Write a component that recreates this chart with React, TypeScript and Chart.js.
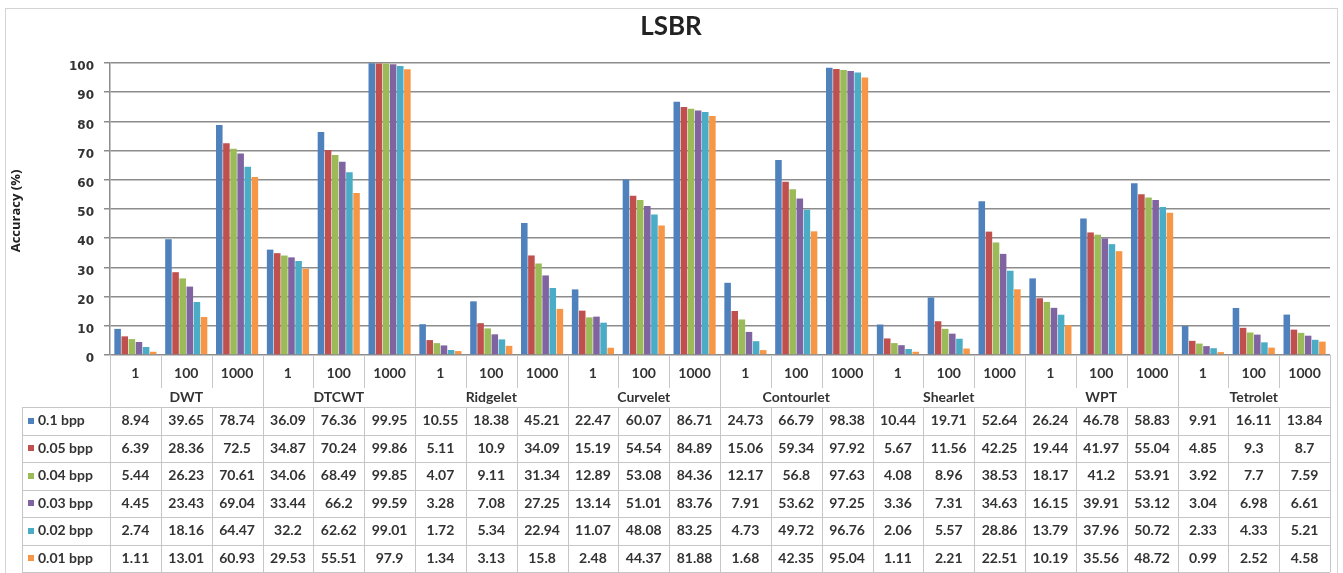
import React, { useEffect, useRef } from "react";
import { Chart, registerables } from "chart.js";
Chart.register(...registerables);

const methods = ["DWT", "DTCWT", "Ridgelet", "Curvelet", "Contourlet", "Shearlet", "WPT", "Tetrolet"];
const levels = ["1", "100", "1000"];
const seriesLabels = ["0.1 bpp", "0.05 bpp", "0.04 bpp", "0.03 bpp", "0.02 bpp", "0.01 bpp"];
const seriesColors = ["#4F81BD", "#C0504D", "#9BBB59", "#8064A2", "#4BACC6", "#F79646"];
const yTicks = [0, 10, 20, 30, 40, 50, 60, 70, 80, 90, 100];

const bpp010 = [8.94, 39.65, 78.74, 36.09, 76.36, 99.95, 10.55, 18.38, 45.21, 22.47, 60.07, 86.71, 24.73, 66.79, 98.38, 10.44, 19.71, 52.64, 26.24, 46.78, 58.83, 9.91, 16.11, 13.84];
const bpp005 = [6.39, 28.36, 72.5, 34.87, 70.24, 99.86, 5.11, 10.9, 34.09, 15.19, 54.54, 84.89, 15.06, 59.34, 97.92, 5.67, 11.56, 42.25, 19.44, 41.97, 55.04, 4.85, 9.3, 8.7];
const bpp004 = [5.44, 26.23, 70.61, 34.06, 68.49, 99.85, 4.07, 9.11, 31.34, 12.89, 53.08, 84.36, 12.17, 56.8, 97.63, 4.08, 8.96, 38.53, 18.17, 41.2, 53.91, 3.92, 7.7, 7.59];
const bpp003 = [4.45, 23.43, 69.04, 33.44, 66.2, 99.59, 3.28, 7.08, 27.25, 13.14, 51.01, 83.76, 7.91, 53.62, 97.25, 3.36, 7.31, 34.63, 16.15, 39.91, 53.12, 3.04, 6.98, 6.61];
const bpp002 = [2.74, 18.16, 64.47, 32.2, 62.62, 99.01, 1.72, 5.34, 22.94, 11.07, 48.08, 83.25, 4.73, 49.72, 96.76, 2.06, 5.57, 28.86, 13.79, 37.96, 50.72, 2.33, 4.33, 5.21];
const bpp001 = [1.11, 13.01, 60.93, 29.53, 55.51, 97.9, 1.34, 3.13, 15.8, 2.48, 44.37, 81.88, 1.68, 42.35, 95.04, 1.11, 2.21, 22.51, 10.19, 35.56, 48.72, 0.99, 2.52, 4.58];
const seriesValues = [bpp010, bpp005, bpp004, bpp003, bpp002, bpp001];

const categories: string[] = [];
methods.forEach((m) => levels.forEach((l) => categories.push(m + " " + l)));

const W = 1343;
const H = 573;
const TABLE_FONT = "bold 14px Lato, 'Open Sans', sans-serif";
const LINE = "#c6c6c6";
const TEXT = "#333333";

const tablePlugin = {
  id: "tablePlugin",
  afterDraw(chart: any) {
    const { ctx, chartArea } = chart;
    const x = chart.scales.x;
    const left = chartArea.left;
    const right = chartArea.right;
    const bottom = chartArea.bottom;
    const n = categories.length;
    const catW = (right - left) / n;
    const catRowBottom = bottom + 33;
    const methodRowBottom = bottom + 52;
    const rowH = (H - 1 - methodRowBottom) / seriesLabels.length;
    const tableLeft = 22;
    const tableBottom = methodRowBottom + rowH * seriesLabels.length;

    ctx.save();
    // outer border
    ctx.strokeStyle = "#d4d4d4";
    ctx.lineWidth = 1;
    ctx.strokeRect(5.5, 8.5, W - 11, H - 8);

    // title
    ctx.fillStyle = "#222";
    ctx.font = "bold 26px Lato, 'Open Sans', sans-serif";
    ctx.textAlign = "center";
    ctx.textBaseline = "middle";
    ctx.fillText("LSBR", 671, 27);

    // y title
    ctx.save();
    ctx.translate(16, 211);
    ctx.rotate(-Math.PI / 2);
    ctx.font = "bold 13px 'Open Sans', Lato, sans-serif";
    ctx.fillText("Accuracy (%)", 0, 0);
    ctx.restore();

    ctx.strokeStyle = LINE;
    ctx.lineWidth = 1;
    const vline = (px: number, y0: number, y1: number) => {
      const xx = Math.round(px) + 0.5;
      ctx.beginPath();
      ctx.moveTo(xx, y0);
      ctx.lineTo(xx, y1);
      ctx.stroke();
    };
    const hline = (py: number, x0: number, x1: number) => {
      const yy = Math.round(py) + 0.5;
      ctx.beginPath();
      ctx.moveTo(x0, yy);
      ctx.lineTo(x1, yy);
      ctx.stroke();
    };

    for (let i = 0; i <= n; i++) {
      const bx = left + i * catW;
      if (i % levels.length === 0) vline(bx, bottom, tableBottom);
      else {
        vline(bx, bottom, catRowBottom);
        vline(bx, methodRowBottom, tableBottom);
      }
    }
    vline(tableLeft, methodRowBottom, tableBottom);
    for (let r = 0; r <= seriesLabels.length; r++) {
      hline(methodRowBottom + r * rowH, tableLeft, right);
    }

    ctx.fillStyle = TEXT;
    ctx.font = TABLE_FONT;
    ctx.textAlign = "center";
    ctx.textBaseline = "middle";
    for (let i = 0; i < n; i++) {
      const cx = x.getPixelForValue(i);
      ctx.fillText(levels[i % levels.length], cx, bottom + 18);
    }
    methods.forEach((m, mi) => {
      const cx = left + (mi * levels.length + levels.length / 2) * catW;
      ctx.fillText(m, cx, catRowBottom + 9);
    });

    seriesLabels.forEach((lab, r) => {
      const cy = methodRowBottom + r * rowH + rowH / 2;
      ctx.fillStyle = seriesColors[r];
      ctx.fillRect(28, Math.round(cy - 3), 6, 6);
      ctx.fillStyle = TEXT;
      ctx.textAlign = "left";
      ctx.fillText(lab, 38, cy);
      ctx.textAlign = "center";
      seriesValues[r].forEach((v, i) => {
        ctx.fillText(String(v), x.getPixelForValue(i), cy);
      });
    });
    ctx.restore();
  },
};

export default function App() {
  const ref = useRef<HTMLCanvasElement | null>(null);
  useEffect(() => {
    document.body.style.margin = "0";
    document.body.style.overflow = "hidden";
    const canvas = ref.current;
    if (!canvas) return;
    const chart = new Chart(canvas, {
      type: "bar",
      data: {
        labels: categories,
        datasets: seriesLabels.map((lab, i) => ({
          label: lab,
          data: seriesValues[i],
          backgroundColor: seriesColors[i],
          borderWidth: 0,
          categoryPercentage: 0.84,
          barPercentage: 0.92,
        })),
      },
      options: {
        responsive: false,
        animation: false,
        devicePixelRatio: 1,
        layout: { padding: { left: 0, right: 13, top: 63, bottom: 218 } },
        plugins: { legend: { display: false }, title: { display: false }, tooltip: { enabled: false } },
        scales: {
          x: { display: false },
          y: {
            min: 0,
            max: 100,
            afterFit: (scale: any) => {
              scale.width = 110;
            },
            afterBuildTicks: (scale: any) => {
              scale.ticks = yTicks.map((v) => ({ value: v }));
            },
            ticks: {
              stepSize: 10,
              padding: 10,
              labelOffset: 4,
              color: "#333",
              font: { family: "'DejaVu Sans', sans-serif", weight: "bold", size: 12 },
            },
            grid: { color: "#8c8c8c", lineWidth: 1.5, tickLength: 6 },
            border: { display: true, color: "#8c8c8c", width: 1.5 },
          },
        },
      },
      plugins: [tablePlugin],
    });
    return () => chart.destroy();
  }, []);
  return (
    <div style={{ width: W, height: H }}>
      <canvas ref={ref} width={W} height={H} style={{ display: "block" }} />
    </div>
  );
}
